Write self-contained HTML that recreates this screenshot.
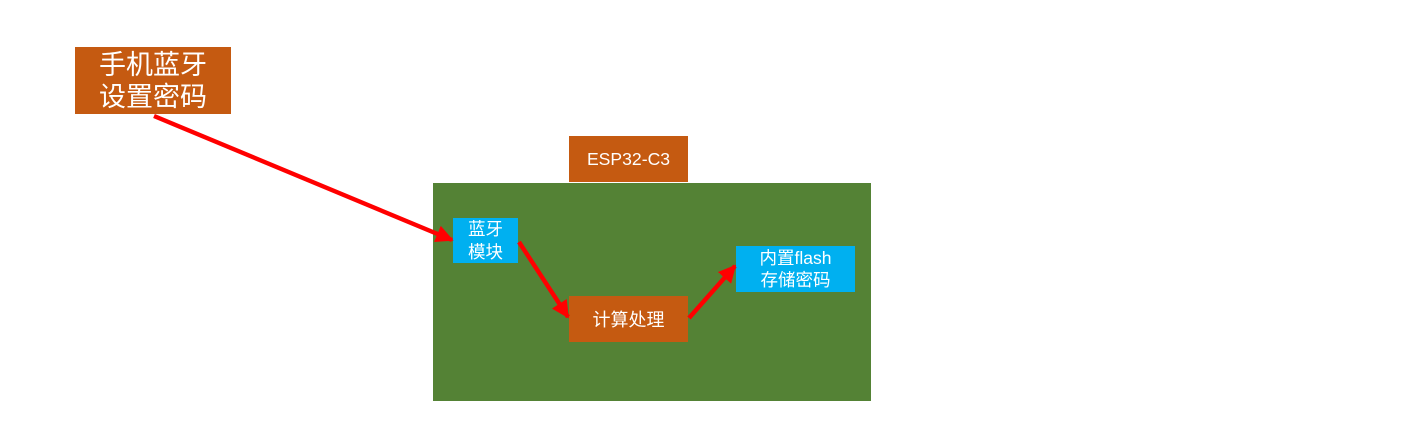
<!DOCTYPE html>
<html>
<head>
<meta charset="utf-8">
<style>
html,body{margin:0;padding:0;background:#fff;}
body{width:1412px;height:431px;position:relative;overflow:hidden;font-family:"Liberation Sans","Noto Sans CJK SC",sans-serif;}
.b{position:absolute;color:#fff;display:flex;align-items:center;justify-content:center;text-align:center;box-sizing:border-box;}
.o{background:#C55A11;}
.c{background:#00B0F0;}
</style>
</head>
<body>
<div class="b o" style="left:75px;top:47px;width:156px;height:67px;font-size:27px;line-height:32px;">手机蓝牙<br>设置密码</div>
<div class="b o" style="left:569px;top:136px;width:119px;height:46px;font-size:17.6px;">ESP32-C3</div>
<div style="position:absolute;left:433px;top:183px;width:438px;height:218px;background:#548235;"></div>
<div class="b c" style="left:453px;top:218px;width:65px;height:45px;font-size:17.5px;line-height:23px;">蓝牙<br>模块</div>
<div class="b o" style="left:569px;top:296px;width:119px;height:46px;font-size:18px;">计算处理</div>
<div class="b c" style="left:736px;top:246px;width:119px;height:46px;font-size:17.5px;line-height:22px;">内置flash<br>存储密码</div>
<svg width="1412" height="431" style="position:absolute;left:0;top:0;" xmlns="http://www.w3.org/2000/svg">
<defs>
<marker id="ah" markerWidth="4" markerHeight="4" refX="3.6" refY="2" orient="auto" markerUnits="strokeWidth">
<path d="M0,0 L4,2 L0,4 z" fill="#FF0000"/>
</marker>
</defs>
<g stroke="#FF0000" stroke-width="4.4" fill="none">
<line x1="154" y1="116" x2="452" y2="240" marker-end="url(#ah)"/>
<line x1="519" y1="242" x2="568" y2="317" marker-end="url(#ah)"/>
<line x1="689" y1="318" x2="735" y2="266" marker-end="url(#ah)"/>
</g>
</svg>
</body>
</html>
